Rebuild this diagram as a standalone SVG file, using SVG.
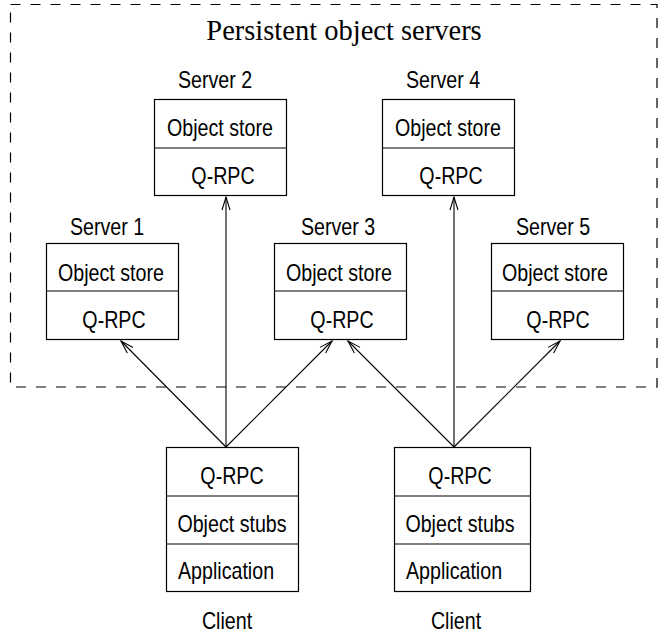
<svg xmlns="http://www.w3.org/2000/svg" width="661" height="634" viewBox="0 0 661 634">
<defs>
<style>
.box{fill:#fff;stroke:#000;stroke-width:1.2}
.div{stroke:#000;stroke-width:1.2}
.t{font-family:"Liberation Sans",Arial,sans-serif;font-size:23px;fill:#000;text-anchor:middle}
.title{font-family:"Liberation Serif","Times New Roman",serif;font-size:28.5px;fill:#000;text-anchor:middle}
.conn{stroke:#000;stroke-width:1.1;fill:none;marker-end:url(#ah)}
</style>
<marker id="ah" markerUnits="userSpaceOnUse" viewBox="-14 -6 16 12" refX="0" refY="0" markerWidth="16" markerHeight="12" orient="auto">
<path d="M-13,-4 L0,0 L-13,4" fill="none" stroke="#000" stroke-width="1.1"/>
</marker>
</defs>
<rect width="661" height="634" fill="#fff"/>
<g id="frame">
<rect x="10.5" y="4.5" width="646.5" height="382.5" fill="none" stroke="#000" stroke-width="1.2" stroke-dasharray="10 10"/>
<text class="title" x="344" y="40">Persistent object servers</text>
</g>
<g id="connectors">
<line class="conn" x1="226" y1="447" x2="226" y2="197"/>
<line class="conn" x1="226" y1="447" x2="121" y2="341"/>
<line class="conn" x1="226" y1="447" x2="332" y2="341"/>
<line class="conn" x1="454" y1="447" x2="454" y2="197"/>
<line class="conn" x1="454" y1="447" x2="348" y2="341"/>
<line class="conn" x1="454" y1="447" x2="560" y2="341"/>
</g>
<g id="server2">
<text class="t" transform="translate(215 88) scale(0.855 1)">Server 2</text>
<rect class="box" x="154.5" y="99.5" width="132" height="96"/>
<line class="div" x1="154.5" y1="148" x2="286.5" y2="148"/>
<text class="t" transform="translate(220 136) scale(0.855 1)">Object store</text>
<text class="t" transform="translate(223 184) scale(0.855 1)">Q-RPC</text>
</g>
<g id="server4">
<text class="t" transform="translate(443 88) scale(0.855 1)">Server 4</text>
<rect class="box" x="382.5" y="99.5" width="132" height="96"/>
<line class="div" x1="382.5" y1="148" x2="514.5" y2="148"/>
<text class="t" transform="translate(448 136) scale(0.855 1)">Object store</text>
<text class="t" transform="translate(451 184) scale(0.855 1)">Q-RPC</text>
</g>
<g id="server1">
<text class="t" transform="translate(107 235) scale(0.855 1)">Server 1</text>
<rect class="box" x="46.5" y="243.5" width="132" height="96"/>
<line class="div" x1="46.5" y1="291" x2="178.5" y2="291"/>
<text class="t" transform="translate(111 281) scale(0.855 1)">Object store</text>
<text class="t" transform="translate(114 328) scale(0.855 1)">Q-RPC</text>
</g>
<g id="server3">
<text class="t" transform="translate(338 235) scale(0.855 1)">Server 3</text>
<rect class="box" x="274.5" y="243.5" width="132" height="96"/>
<line class="div" x1="274.5" y1="291" x2="406.5" y2="291"/>
<text class="t" transform="translate(339 281) scale(0.855 1)">Object store</text>
<text class="t" transform="translate(342 328) scale(0.855 1)">Q-RPC</text>
</g>
<g id="server5">
<text class="t" transform="translate(553 235) scale(0.855 1)">Server 5</text>
<rect class="box" x="491.5" y="243.5" width="132" height="96"/>
<line class="div" x1="491.5" y1="291" x2="623.5" y2="291"/>
<text class="t" transform="translate(555 281) scale(0.855 1)">Object store</text>
<text class="t" transform="translate(558 328) scale(0.855 1)">Q-RPC</text>
</g>
<g id="client1">
<rect class="box" x="166.5" y="447.5" width="132" height="144"/>
<line class="div" x1="166.5" y1="496" x2="298.5" y2="496"/>
<line class="div" x1="166.5" y1="544" x2="298.5" y2="544"/>
<text class="t" transform="translate(232 484) scale(0.855 1)">Q-RPC</text>
<text class="t" transform="translate(232 532) scale(0.855 1)">Object stubs</text>
<text class="t" transform="translate(226 579) scale(0.855 1)">Application</text>
<text class="t" transform="translate(227 629) scale(0.855 1)">Client</text>
</g>
<g id="client2">
<rect class="box" x="394.5" y="447.5" width="136" height="144"/>
<line class="div" x1="394.5" y1="496" x2="530.5" y2="496"/>
<line class="div" x1="394.5" y1="544" x2="530.5" y2="544"/>
<text class="t" transform="translate(460 484) scale(0.855 1)">Q-RPC</text>
<text class="t" transform="translate(460 532) scale(0.855 1)">Object stubs</text>
<text class="t" transform="translate(454 579) scale(0.855 1)">Application</text>
<text class="t" transform="translate(456 629) scale(0.855 1)">Client</text>
</g>
</svg>
